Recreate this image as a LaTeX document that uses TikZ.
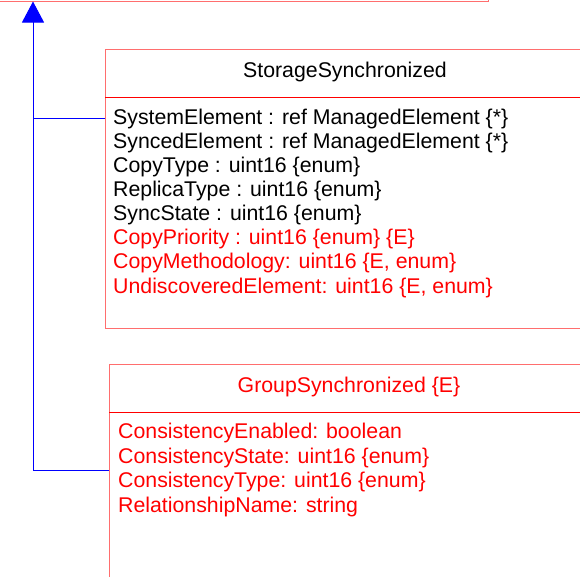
\documentclass[tikz,border=0pt]{standalone}
\usepackage{fontspec}
\setmainfont{Liberation Sans}
\usetikzlibrary{arrows.meta}
\definecolor{boxred}{RGB}{255,110,110}
\tikzset{
  boxline/.style={draw=boxred, line width=1pt},
  sepline/.style={draw=red, line width=1pt},
  attr/.style={anchor=base west, inner sep=0pt, font=\fontsize{21.3}{24}\selectfont},
  hdr/.style={anchor=base, inner sep=0pt, font=\fontsize{21.3}{24}\selectfont},
  gen/.style={draw=blue, line width=1pt},
}
\begin{document}
\begin{tikzpicture}[x=1pt,y=-1pt]
\useasboundingbox (0,0) rectangle (580,576);
\clip (0,0) rectangle (580,576);
\fill[white] (0,0) rectangle (580,576);
% boxes
\node[boxline, rectangle, inner sep=0pt, minimum width=510pt, minimum height=60pt, anchor=south east] (top) at (489,1.5) {};
\node[boxline, rectangle, inner sep=0pt, minimum width=480pt, minimum height=279pt, anchor=north west] (ss) at (105,49) {};
\node[boxline, rectangle, inner sep=0pt, minimum width=480pt, minimum height=260pt, anchor=north west] (gs) at (109,364) {};
% separators
\draw[sepline] (105,97) -- (585,97);
\draw[sepline] (109,412) -- (589,412);
% headers
\node[hdr] (ssh) at (345,77) {StorageSynchronized};
\node[hdr, text=red] (gsh) at (349,392) {GroupSynchronized \{E\}};
% attributes box 1
\node[attr] (a1) at (113,124) {SystemElement : ref ManagedElement \{*\}};
\node[attr] (a2) at (113,148) {SyncedElement : ref ManagedElement \{*\}};
\node[attr] (a3) at (113,172) {CopyType : uint16 \{enum\}};
\node[attr] (a4) at (113,196) {ReplicaType : uint16 \{enum\}};
\node[attr] (a5) at (113,220) {SyncState : uint16 \{enum\}};
\node[attr, text=red] (a6) at (113,244) {CopyPriority : uint16 \{enum\} \{E\}};
\node[attr, text=red] (a7) at (113,268) {CopyMethodology: uint16 \{E, enum\}};
\node[attr, text=red] (a8) at (113,293) {UndiscoveredElement: uint16 \{E, enum\}};
% attributes box 2
\node[attr, text=red] (b1) at (118,438.5) {ConsistencyEnabled: boolean};
\node[attr, text=red] (b2) at (118,463) {ConsistencyState: uint16 \{enum\}};
\node[attr, text=red] (b3) at (118,487.5) {ConsistencyType: uint16 \{enum\}};
\node[attr, text=red] (b4) at (118,512) {RelationshipName: string};
% generalization connectors
\coordinate (j1) at (33,118);
\coordinate (j2) at (33,470);
\draw[gen] (ss.west |- j1) -- (j1);
\draw[gen] (gs.west |- j2) -- (j2);
\draw[gen, -{Triangle[length=21pt,width=22pt]}] (j2) -- (top.south -| j2);
\end{tikzpicture}
\end{document}
